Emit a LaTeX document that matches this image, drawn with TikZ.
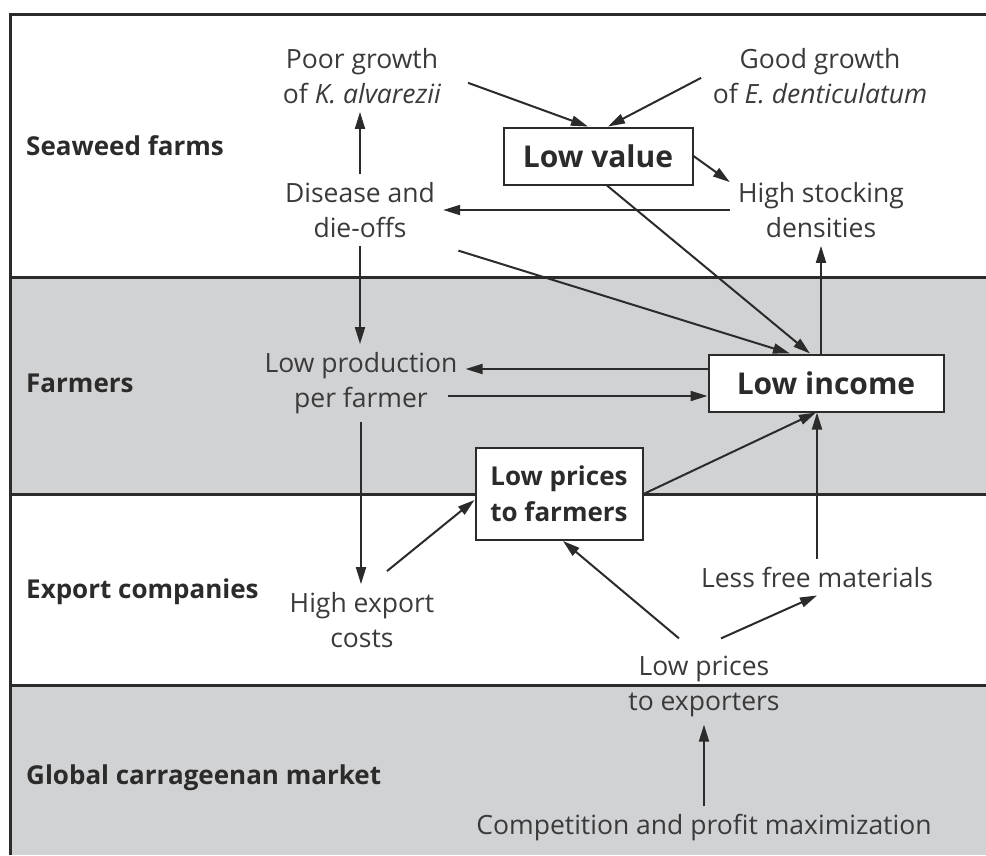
\documentclass[tikz,border=0pt]{standalone}
\usepackage{fontspec}
\setmainfont{Open Sans}
\usetikzlibrary{arrows.meta, positioning, calc}
\definecolor{ink}{HTML}{2B2B2B}
\definecolor{inksoft}{HTML}{3A3A3A}
\definecolor{band}{HTML}{D1D2D4}
\tikzset{
  cause/.style   = {align=center, inner sep=8pt, text=inksoft, font=\fontsize{26.5}{35}\selectfont},
  keybox/.style  = {draw=ink, line width=2pt, fill=white, align=center, text=ink,
                    font=\fontsize{30}{38}\selectfont\bfseries},
  tier/.style    = {anchor=west, text=ink, inner sep=0pt, font=\fontsize{26}{34}\selectfont\bfseries},
  flow/.style    = {-{Triangle[length=17pt,width=10pt]}, draw=ink, line width=2pt},
  divider/.style = {draw=ink, line width=3pt},
}
\begin{document}
\begin{tikzpicture}[x=1pt, y=-1pt]
  \useasboundingbox (0,0) rectangle (986,855);
  \fill[band] (10,277) rectangle (986,494);
  \fill[band] (10,685) rectangle (986,855);
  \draw[divider] (986,14) -- (10,14) -- (10,855);
  \foreach \y in {277,494,685}
    \draw[divider] (10,\y) -- (986,\y);

  \node[tier] (tfarms)   at (26,146) {Seaweed farms};
  \node[tier] (tfarmers) at (26,383) {Farmers};
  \node[tier] (texport)  at (26,592) {Export companies};
  \node[tier] (tmarket)  at (26,778) {Global carrageenan market};

  \node[cause] (poor)    at (362,76)  {Poor growth\\of \textit{K. alvarezii}};
  \node[cause] (good)    at (820,76)  {Good growth\\of \textit{E. denticulatum}};
  \node[keybox, minimum width=189pt, minimum height=57pt] (lowval) at (598,156) {Low value};
  \node[cause] (stock)   at (821,210) {High stocking\\densities};
  \node[cause] (disease) at (360,210) {Disease and\\die-offs};
  \node[cause] (lowprod) at (361,383) {Low production\\per farmer};
  \node[keybox, minimum width=235pt, minimum height=57pt] (lowinc) at (826,383) {Low income};
  \node[keybox, font=\fontsize{26}{36}\selectfont\bfseries, minimum width=167pt, minimum height=92pt]
    (lowpf) at (559,494) {Low prices\\to farmers};
  \node[cause] (highexp)  at (362,620) {High export\\costs};
  \node[cause] (lessfree) at (817,577) {Less free materials};
  \node[cause] (lowpe)    at (704,686) {Low prices\\to exporters};
  \node[cause] (comp)     at (704,828) {Competition and profit maximization};

  \draw[flow, shorten <=20pt] (poor.east) -- ([xshift=-10pt]lowval.north);
  \draw[flow, shorten <=4pt] (good.west) -- ([xshift=10pt]lowval.north);
  \draw[flow] (lowval.east) -- ([yshift=-8pt]stock.north west);
  \draw[flow] (disease.north) -- (disease.north |- poor.south);
  \draw[flow] (stock.west) -- (stock.west -| disease.east);
  \draw[flow, shorten <=16pt] (disease.south east) -- ([xshift=-36pt]lowinc.north);
  \draw[flow] ([xshift=9pt]lowval.south) -- ([xshift=-16pt]lowinc.north);
  \draw[flow] (stock.south |- lowinc.north) -- (stock.south);
  \draw[flow] (disease.south) -- (disease.south |- lowprod.north);
  \draw[flow] ([yshift=14pt]lowinc.west) -- ([yshift=14pt]lowprod.east);
  \draw[flow] ([xshift=-18pt,yshift=-13pt]lowprod.east) -- ([yshift=-13pt]lowinc.west);
  \draw[flow] (lowprod.south) -- (lowprod.south |- highexp.north);
  \draw[flow] ([xshift=25pt,yshift=13pt]highexp.north) -- ([yshift=-6pt]lowpf.west);
  \draw[flow] (lowpf.east) -- ([xshift=-10pt]lowinc.south);
  \draw[flow] (lessfree.north) -- (lessfree.north |- lowinc.south);
  \draw[flow] ([xshift=-25pt,yshift=9pt]lowpe.north) -- ([xshift=4pt]lowpf.south);
  \draw[flow] ([xshift=17pt,yshift=9pt]lowpe.north) -- (lessfree.south);
  \draw[flow] (comp.north) -- (comp.north |- lowpe.south);
\end{tikzpicture}
\end{document}
